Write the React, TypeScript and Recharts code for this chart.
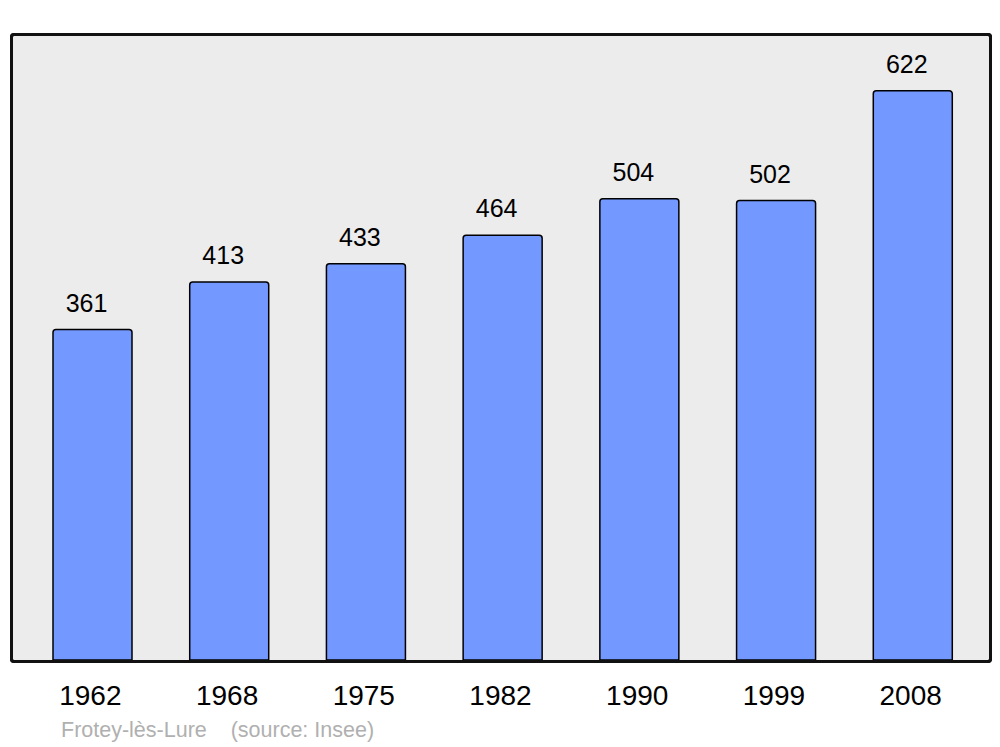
import React from 'react'
import { BarChart, Bar, XAxis, YAxis, CartesianGrid, LabelList } from 'recharts'

// ─── Data ────────────────────────────────────────────────────────────────────
const years = ['1962', '1968', '1975', '1982', '1990', '1999', '2008']
const population = [361, 413, 433, 464, 504, 502, 622]
const yMax = 684

const data = years.map((year, i) => ({ year, pop: population[i] }))

const FONT = '"Liberation Sans", Arial, sans-serif'

function ValueLabel({ x, y, width, value }: any) {
  return (
    <text x={x + width / 2 - 6} y={y - 18} textAnchor="middle" fontSize={25} fill="#000" fontFamily={FONT}>
      {value}
    </text>
  )
}

function YearTick({ x, y, payload }: any) {
  return (
    <text x={x - 2} y={y + 37} textAnchor="middle" fontSize={28} fill="#000" fontFamily={FONT}>
      {payload.value}
    </text>
  )
}

export default function App() {
  return (
    <div style={{ position: 'fixed', left: 0, top: 0, width: 1000, height: 747, background: '#fff', fontFamily: FONT }}>
      {/* plot frame */}
      <div
        style={{
          position: 'absolute', left: 10, top: 33, width: 976, height: 624,
          background: '#ececec', border: '3px solid #111', borderRadius: 4,
        }}
      />
      <div style={{ position: 'absolute', left: 0, top: 0 }}>
        <BarChart width={1000} height={747} data={data} margin={{ top: 34, right: 11, bottom: 57, left: 11 }}>
          <CartesianGrid horizontal={false} vertical={false} />
          <XAxis
            dataKey="year"
            height={30}
            axisLine={false}
            tickLine={false}
            padding={{ left: 13, right: 8 }}
            tick={<YearTick />}
            interval={0}
          />
          <YAxis hide domain={[0, yMax]} />
          <Bar dataKey="pop" fill="#7398ff" stroke="#000" strokeWidth={1.5} barSize={79} radius={[3, 3, 0, 0]} isAnimationActive={false}>
            <LabelList dataKey="pop" content={<ValueLabel />} />
          </Bar>
        </BarChart>
      </div>
      {/* redraw frame line on top of bars */}
      <div
        style={{
          position: 'absolute', left: 10, top: 33, width: 976, height: 624,
          border: '3px solid #111', borderRadius: 4, pointerEvents: 'none',
        }}
      />
      <div style={{ position: 'absolute', left: 61, top: 718, fontSize: 21.5, color: '#b0b0b0', whiteSpace: 'pre' }}>
        {'Frotey-lès-Lure    (source: Insee)'}
      </div>
    </div>
  )
}
